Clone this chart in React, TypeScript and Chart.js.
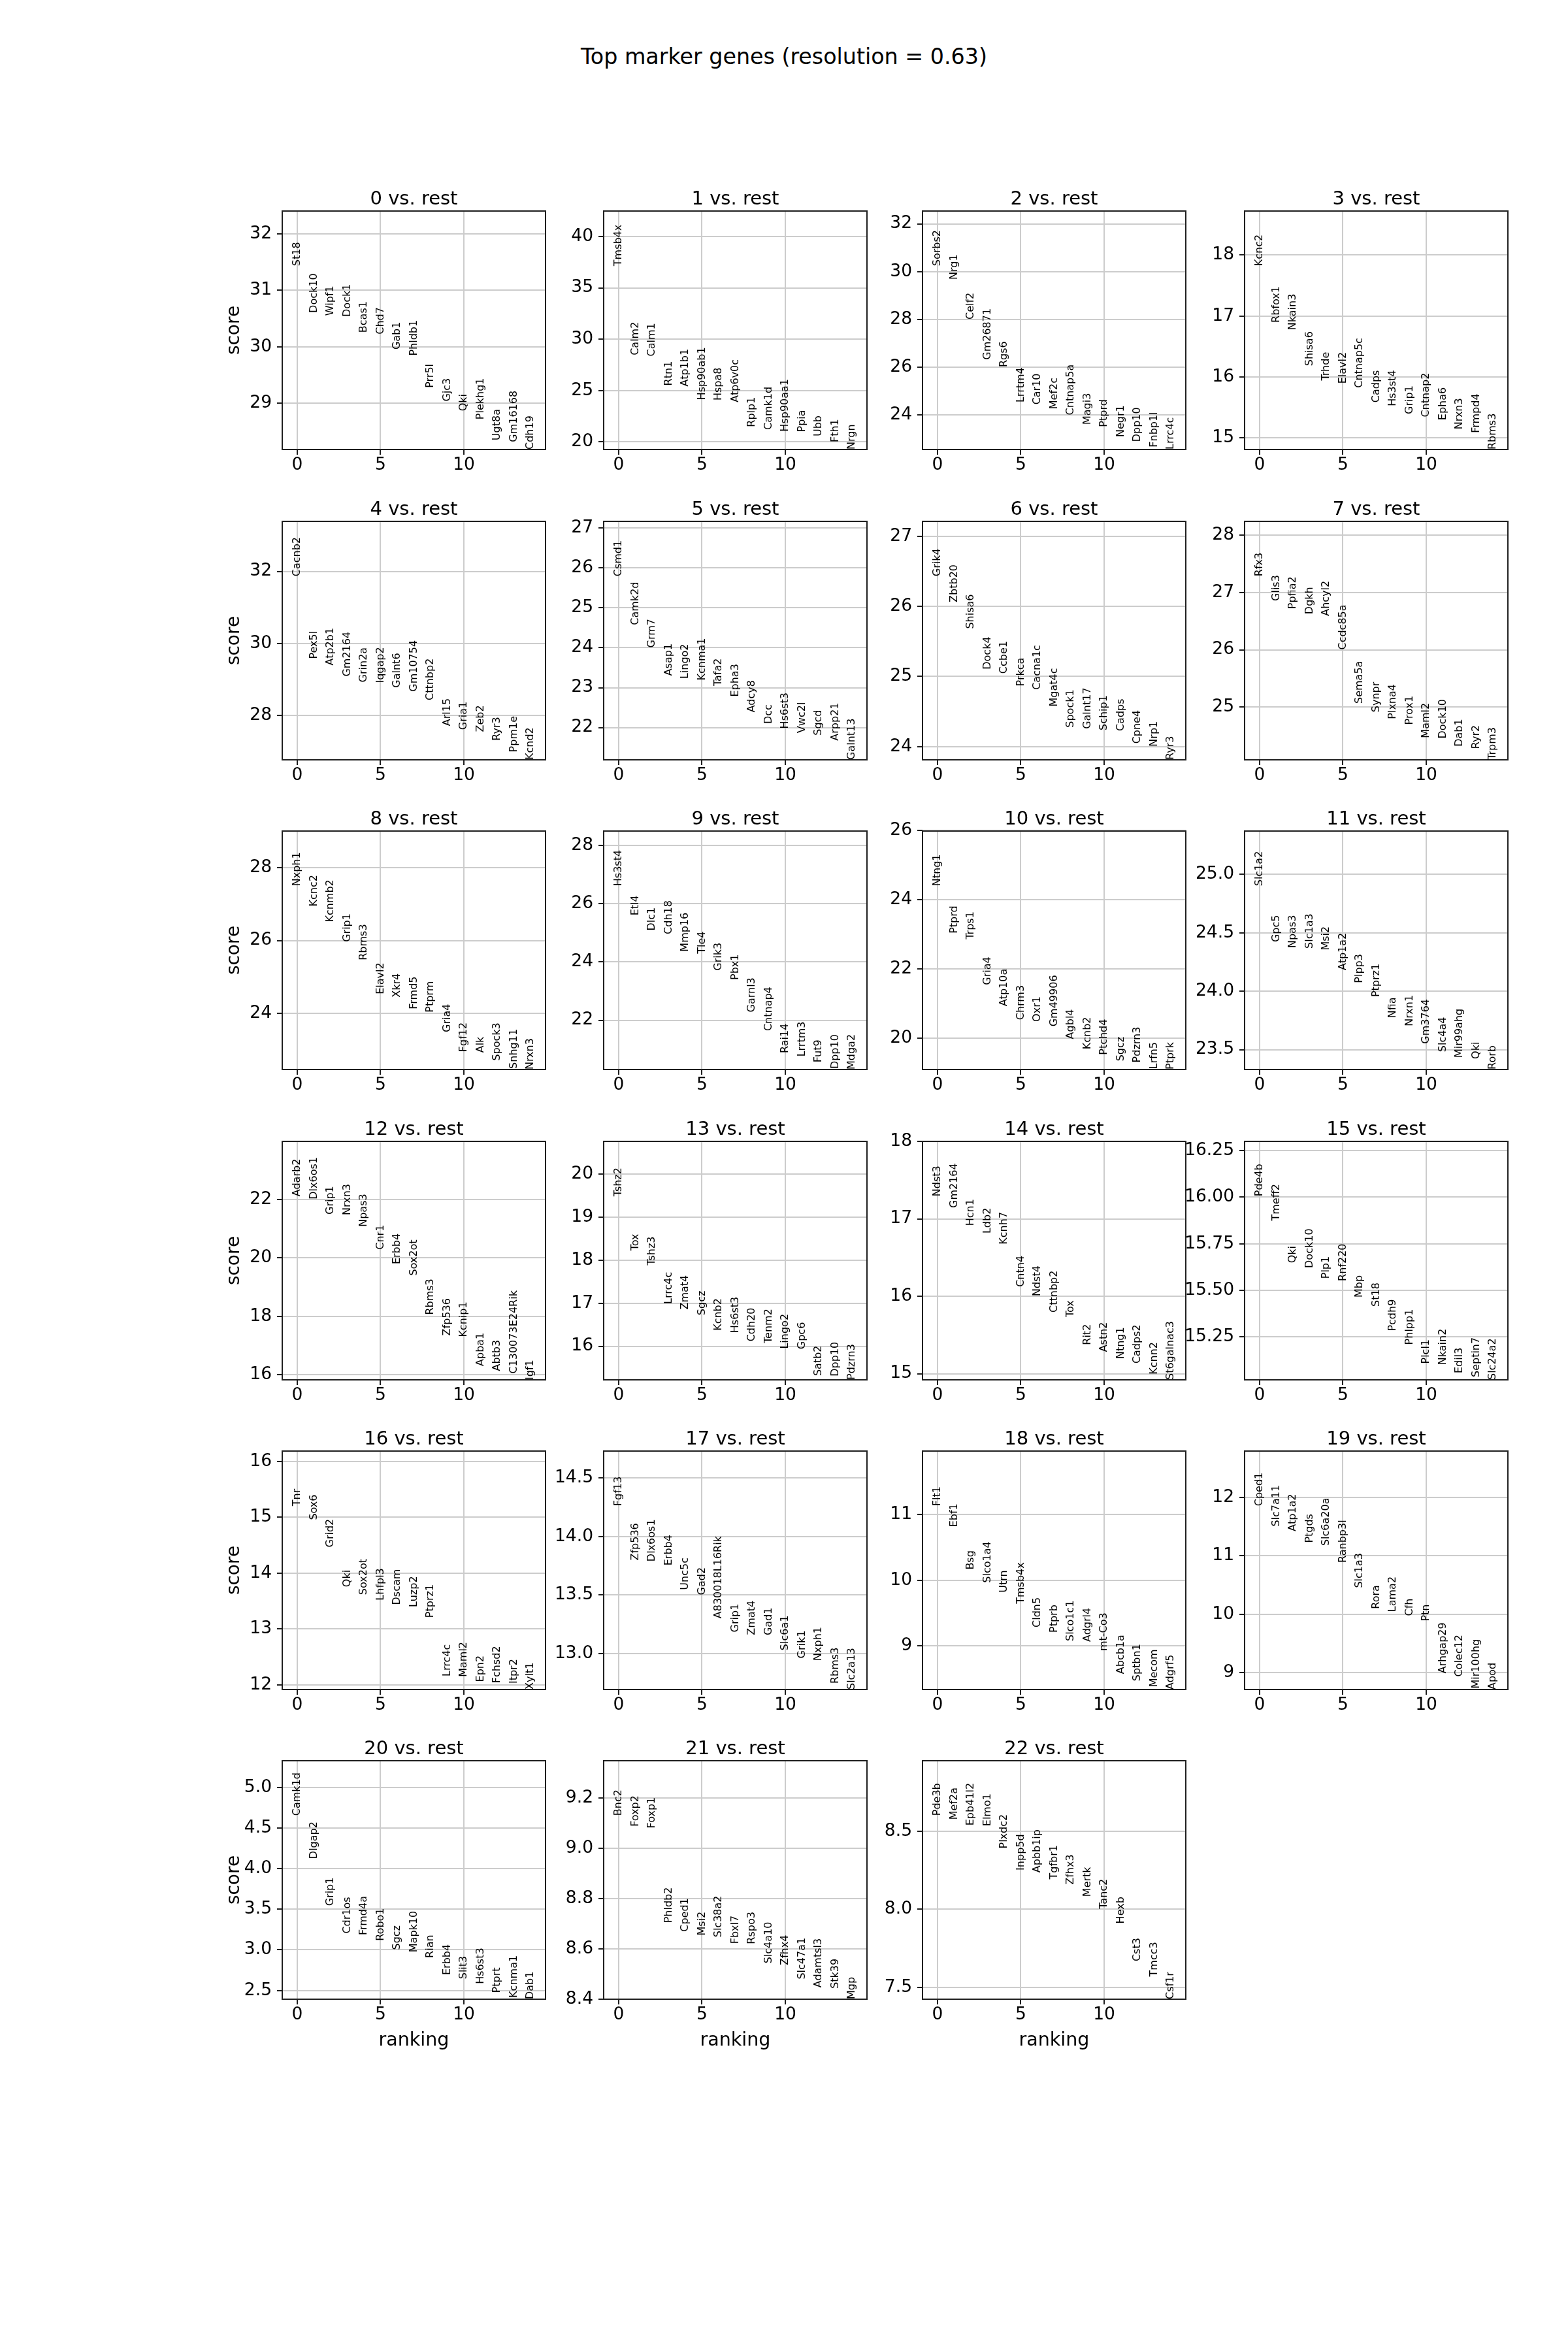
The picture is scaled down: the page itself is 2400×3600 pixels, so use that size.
import { useEffect, useRef } from 'react';
import { Chart, registerables } from 'chart.js';

Chart.register(...registerables);

const FONT = '"DejaVu Sans", sans-serif';

// ---------------- data ----------------
const mainTitle = 'Top marker genes (resolution = 0.63)';
const groupNames = ['0', '1', '2', '3', '4', '5', '6', '7', '8', '9', '10', '11', '12', '13', '14', '15', '16', '17', '18', '19', '20', '21', '22'];
const xTickValues = [0, 5, 10];
const xTickLabels = ['0', '5', '10'];

const geneNames: string[][] = [
  ['St18', 'Dock10', 'Wipf1', 'Dock1', 'Bcas1', 'Chd7', 'Gab1', 'Phldb1', 'Prr5l', 'Gjc3', 'Qki', 'Plekhg1', 'Ugt8a', 'Gm16168', 'Cdh19'],
  ['Tmsb4x', 'Calm2', 'Calm1', 'Rtn1', 'Atp1b1', 'Hsp90ab1', 'Hspa8', 'Atp6v0c', 'Rplp1', 'Camk1d', 'Hsp90aa1', 'Ppia', 'Ubb', 'Fth1', 'Nrgn'],
  ['Sorbs2', 'Nrg1', 'Celf2', 'Gm26871', 'Rgs6', 'Lrrtm4', 'Car10', 'Mef2c', 'Cntnap5a', 'Magi3', 'Ptprd', 'Negr1', 'Dpp10', 'Fnbp1l', 'Lrrc4c'],
  ['Kcnc2', 'Rbfox1', 'Nkain3', 'Shisa6', 'Trhde', 'Elavl2', 'Cntnap5c', 'Cadps', 'Hs3st4', 'Grip1', 'Cntnap2', 'Epha6', 'Nrxn3', 'Frmpd4', 'Rbms3'],
  ['Cacnb2', 'Pex5l', 'Atp2b1', 'Gm2164', 'Grin2a', 'Iqgap2', 'Galnt6', 'Gm10754', 'Cttnbp2', 'Arl15', 'Gria1', 'Zeb2', 'Ryr3', 'Ppm1e', 'Kcnd2'],
  ['Csmd1', 'Camk2d', 'Grm7', 'Asap1', 'Lingo2', 'Kcnma1', 'Tafa2', 'Epha3', 'Adcy8', 'Dcc', 'Hs6st3', 'Vwc2l', 'Sgcd', 'Arpp21', 'Galnt13'],
  ['Grik4', 'Zbtb20', 'Shisa6', 'Dock4', 'Ccbe1', 'Prkca', 'Cacna1c', 'Mgat4c', 'Spock1', 'Galnt17', 'Schip1', 'Cadps', 'Cpne4', 'Nrp1', 'Ryr3'],
  ['Rfx3', 'Glis3', 'Ppfia2', 'Dgkh', 'Ahcyl2', 'Ccdc85a', 'Sema5a', 'Synpr', 'Plxna4', 'Prox1', 'Maml2', 'Dock10', 'Dab1', 'Ryr2', 'Trpm3'],
  ['Nxph1', 'Kcnc2', 'Kcnmb2', 'Grip1', 'Rbms3', 'Elavl2', 'Xkr4', 'Frmd5', 'Ptprm', 'Gria4', 'Fgf12', 'Alk', 'Spock3', 'Snhg11', 'Nrxn3'],
  ['Hs3st4', 'Etl4', 'Dlc1', 'Cdh18', 'Mmp16', 'Tle4', 'Grik3', 'Pbx1', 'Garnl3', 'Cntnap4', 'Rai14', 'Lrrtm3', 'Fut9', 'Dpp10', 'Mdga2'],
  ['Ntng1', 'Ptprd', 'Trps1', 'Gria4', 'Atp10a', 'Chrm3', 'Oxr1', 'Gm49906', 'Agbl4', 'Kcnb2', 'Ptchd4', 'Sgcz', 'Pdzrn3', 'Lrfn5', 'Ptprk'],
  ['Slc1a2', 'Gpc5', 'Npas3', 'Slc1a3', 'Msi2', 'Atp1a2', 'Plpp3', 'Ptprz1', 'Nfia', 'Nrxn1', 'Gm3764', 'Slc4a4', 'Mir99ahg', 'Qki', 'Rorb'],
  ['Adarb2', 'Dlx6os1', 'Grip1', 'Nrxn3', 'Npas3', 'Cnr1', 'Erbb4', 'Sox2ot', 'Rbms3', 'Zfp536', 'Kcnip1', 'Apba1', 'Abtb3', 'C130073E24Rik', 'Igf1'],
  ['Tshz2', 'Tox', 'Tshz3', 'Lrrc4c', 'Zmat4', 'Sgcz', 'Kcnb2', 'Hs6st3', 'Cdh20', 'Tenm2', 'Lingo2', 'Gpc6', 'Satb2', 'Dpp10', 'Pdzrn3'],
  ['Ndst3', 'Gm2164', 'Hcn1', 'Ldb2', 'Kcnh7', 'Cntn4', 'Ndst4', 'Cttnbp2', 'Tox', 'Rit2', 'Astn2', 'Ntng1', 'Cadps2', 'Kcnn2', 'St6galnac3'],
  ['Pde4b', 'Tmeff2', 'Qki', 'Dock10', 'Plp1', 'Rnf220', 'Mbp', 'St18', 'Pcdh9', 'Phlpp1', 'Plcl1', 'Nkain2', 'Edil3', 'Septin7', 'Slc24a2'],
  ['Tnr', 'Sox6', 'Grid2', 'Qki', 'Sox2ot', 'Lhfpl3', 'Dscam', 'Luzp2', 'Ptprz1', 'Lrrc4c', 'Maml2', 'Epn2', 'Fchsd2', 'Itpr2', 'Xylt1'],
  ['Fgf13', 'Zfp536', 'Dlx6os1', 'Erbb4', 'Unc5c', 'Gad2', 'A830018L16Rik', 'Grip1', 'Zmat4', 'Gad1', 'Slc6a1', 'Grik1', 'Nxph1', 'Rbms3', 'Slc2a13'],
  ['Flt1', 'Ebf1', 'Bsg', 'Slco1a4', 'Utrn', 'Tmsb4x', 'Cldn5', 'Ptprb', 'Slco1c1', 'Adgrl4', 'mt-Co3', 'Abcb1a', 'Sptbn1', 'Mecom', 'Adgrf5'],
  ['Cped1', 'Slc7a11', 'Atp1a2', 'Ptgds', 'Slc6a20a', 'Ranbp3l', 'Slc1a3', 'Rora', 'Lama2', 'Cfh', 'Ptn', 'Arhgap29', 'Colec12', 'Mir100hg', 'Apod'],
  ['Camk1d', 'Dlgap2', 'Grip1', 'Cdr1os', 'Frmd4a', 'Robo1', 'Sgcz', 'Mapk10', 'Rian', 'Erbb4', 'Slit3', 'Hs6st3', 'Ptprt', 'Kcnma1', 'Dab1'],
  ['Bnc2', 'Foxp2', 'Foxp1', 'Phldb2', 'Cped1', 'Msi2', 'Slc38a2', 'Fbxl7', 'Rspo3', 'Slc4a10', 'Zfhx4', 'Slc47a1', 'Adamtsl3', 'Stk39', 'Mgp'],
  ['Pde3b', 'Mef2a', 'Epb41l2', 'Elmo1', 'Plxdc2', 'Inpp5d', 'Apbb1ip', 'Tgfbr1', 'Zfhx3', 'Mertk', 'Tanc2', 'Hexb', 'Cst3', 'Tmcc3', 'Csf1r'],
];

const geneScores: number[][] = [
  [31.43, 30.60, 30.55, 30.53, 30.25, 30.22, 29.95, 29.84, 29.27, 29.03, 28.86, 28.71, 28.34, 28.31, 28.18],
  [37.12, 28.43, 28.33, 25.47, 25.40, 24.07, 24.03, 23.86, 21.44, 21.17, 21.00, 20.95, 20.53, 19.96, 19.26],
  [30.23, 29.66, 27.99, 26.30, 25.99, 24.51, 24.42, 24.23, 23.98, 23.58, 23.48, 23.06, 22.86, 22.63, 22.54],
  [17.82, 16.89, 16.77, 16.18, 15.94, 15.89, 15.82, 15.58, 15.52, 15.39, 15.34, 15.29, 15.14, 15.08, 14.81],
  [31.86, 29.57, 29.39, 29.08, 28.92, 28.90, 28.77, 28.66, 28.42, 27.71, 27.60, 27.54, 27.30, 26.98, 26.77],
  [25.79, 24.57, 24.00, 23.30, 23.22, 23.18, 23.04, 22.77, 22.38, 22.09, 21.97, 21.86, 21.80, 21.67, 21.19],
  [26.43, 26.06, 25.68, 25.10, 25.04, 24.86, 24.81, 24.57, 24.27, 24.25, 24.23, 24.22, 24.04, 24.00, 23.81],
  [27.28, 26.85, 26.71, 26.62, 26.59, 26.00, 25.06, 24.91, 24.79, 24.69, 24.46, 24.45, 24.31, 24.27, 24.08],
  [27.49, 26.93, 26.50, 25.96, 25.46, 24.53, 24.44, 24.12, 24.03, 23.49, 22.95, 22.93, 22.71, 22.49, 22.47],
  [26.60, 25.59, 25.07, 24.95, 24.35, 24.28, 23.70, 23.38, 22.27, 21.63, 20.87, 20.75, 20.55, 20.33, 20.31],
  [24.40, 23.03, 22.86, 21.54, 20.93, 20.53, 20.48, 20.34, 19.98, 19.68, 19.52, 19.34, 19.30, 19.11, 19.10],
  [24.90, 24.42, 24.37, 24.365, 24.35, 24.18, 24.07, 23.95, 23.77, 23.70, 23.55, 23.48, 23.43, 23.42, 23.33],
  [22.10, 22.00, 21.48, 21.46, 21.06, 20.28, 19.78, 19.39, 18.05, 17.34, 17.29, 16.30, 16.13, 16.04, 15.83],
  [19.48, 18.22, 17.88, 16.98, 16.85, 16.72, 16.36, 16.31, 16.11, 16.07, 15.94, 15.93, 15.31, 15.30, 15.22],
  [17.29, 17.14, 16.91, 16.81, 16.67, 16.12, 16.00, 15.79, 15.73, 15.37, 15.28, 15.19, 15.13, 14.99, 14.92],
  [16.004, 15.873, 15.646, 15.619, 15.562, 15.549, 15.461, 15.412, 15.280, 15.207, 15.105, 15.099, 15.054, 15.033, 15.019],
  [15.20, 14.95, 14.46, 13.75, 13.61, 13.51, 13.43, 13.39, 13.20, 12.15, 12.14, 12.05, 12.03, 12.02, 11.915],
  [14.259, 13.794, 13.785, 13.751, 13.542, 13.499, 13.299, 13.181, 13.157, 13.155, 13.026, 12.957, 12.938, 12.742, 12.692],
  [11.13, 10.81, 10.16, 9.96, 9.81, 9.64, 9.28, 9.20, 9.07, 9.06, 8.92, 8.57, 8.46, 8.37, 8.333],
  [11.85, 11.50, 11.42, 11.22, 11.17, 10.88, 10.45, 10.09, 10.04, 9.97, 9.88, 8.99, 8.93, 8.73, 8.713],
  [4.65, 4.12, 3.54, 3.20, 3.18, 3.11, 3.00, 2.97, 2.90, 2.69, 2.64, 2.58, 2.47, 2.41, 2.393],
  [9.129, 9.086, 9.079, 8.703, 8.668, 8.653, 8.646, 8.620, 8.619, 8.542, 8.535, 8.479, 8.446, 8.442, 8.400],
  [8.601, 8.576, 8.538, 8.534, 8.390, 8.250, 8.236, 8.193, 8.158, 8.081, 8.003, 7.908, 7.666, 7.568, 7.423],
];

const yTickLabels: string[][] = [
  ['29', '30', '31', '32'],
  ['20', '25', '30', '35', '40'],
  ['24', '26', '28', '30', '32'],
  ['15', '16', '17', '18'],
  ['28', '30', '32'],
  ['22', '23', '24', '25', '26', '27'],
  ['24', '25', '26', '27'],
  ['25', '26', '27', '28'],
  ['24', '26', '28'],
  ['22', '24', '26', '28'],
  ['20', '22', '24', '26'],
  ['23.5', '24.0', '24.5', '25.0'],
  ['16', '18', '20', '22'],
  ['16', '17', '18', '19', '20'],
  ['15', '16', '17', '18'],
  ['15.25', '15.50', '15.75', '16.00', '16.25'],
  ['12', '13', '14', '15', '16'],
  ['13.0', '13.5', '14.0', '14.5'],
  ['9', '10', '11'],
  ['9', '10', '11', '12'],
  ['2.5', '3.0', '3.5', '4.0', '4.5', '5.0'],
  ['8.4', '8.6', '8.8', '9.0', '9.2'],
  ['7.5', '8.0', '8.5'],
];

// ---------------- layout ----------------
const PLOT_W = 403;
const PLOT_H = 365;
const COL_LEFT = [432, 924, 1412, 1905];
const ROW_TOP = [323, 798, 1272, 1747, 2221, 2695];
const YW = 150;
const TH = 60;
const RP = 12;
const XH = 100;
const GRID = '#cccccc';
const DARK = '#1f1f1f';

function makeConfig(p: number): any {
  const col = p % 4;
  const row = Math.floor(p / 4);
  const scores = geneScores[p];
  const names = geneNames[p];
  const lo = Math.min(...scores);
  const hi = Math.max(...scores);
  const top = hi + 0.3 * (hi - lo);
  const yVals = yTickLabels[p].map(Number);

  const decor = {
    id: 'panelDecor',
    afterDatasetsDraw(chart: any) {
      const { ctx, chartArea: a, scales } = chart;
      ctx.save();
      ctx.strokeStyle = DARK;
      ctx.lineWidth = 2;
      ctx.strokeRect(a.left, a.top, a.right - a.left, a.bottom - a.top);
      ctx.fillStyle = '#000';
      ctx.font = `16px ${FONT}`;
      ctx.textAlign = 'left';
      ctx.textBaseline = 'middle';
      chart.data.datasets[0].data.forEach((pt: any, i: number) => {
        const px = scales.x.getPixelForValue(pt.x);
        const py = scales.y.getPixelForValue(pt.y);
        ctx.save();
        ctx.translate(px, py);
        ctx.rotate(-Math.PI / 2);
        ctx.fillText(names[i], 0, 0);
        ctx.restore();
      });
      ctx.restore();
    },
  };

  return {
    type: 'scatter',
    data: {
      datasets: [
        {
          data: scores.map((s, i) => ({ x: i, y: s })),
          pointRadius: 0,
          pointHoverRadius: 0,
          showLine: false,
        },
      ],
    },
    options: {
      responsive: false,
      maintainAspectRatio: false,
      animation: false,
      events: [],
      layout: { padding: { left: 0, top: 0, bottom: 0, right: RP } },
      plugins: {
        legend: { display: false },
        tooltip: { enabled: false },
        title: {
          display: true,
          text: `${groupNames[p]} vs. rest`,
          color: '#000',
          fullSize: false,
          font: { family: FONT, size: 29, weight: 'normal', lineHeight: 1.2 },
          padding: { top: 24.6, bottom: 0.6 },
        },
      },
      scales: {
        x: {
          type: 'linear',
          min: -0.9,
          max: 14.9,
          afterBuildTicks: (s: any) => {
            s.ticks = xTickValues.map((v) => ({ value: v }));
          },
          afterFit: (s: any) => {
            s.height = XH;
          },
          ticks: {
            autoSkip: false,
            maxRotation: 0,
            minRotation: 0,
            padding: 0,
            color: '#000',
            font: { family: FONT, size: 26.5, lineHeight: 1.2 },
            callback: (_v: any, i: number) => xTickLabels[i],
          },
          grid: { color: GRID, lineWidth: 2, drawTicks: true, tickLength: 8, tickColor: DARK, tickWidth: 2 },
          border: { display: false },
          title: {
            display: row === 5,
            text: 'ranking',
            color: '#000',
            font: { family: FONT, size: 28.5, lineHeight: 1.2 },
            padding: { top: 0, bottom: 18.9 },
          },
        },
        y: {
          type: 'linear',
          min: lo,
          max: top,
          afterBuildTicks: (s: any) => {
            s.ticks = yVals.map((v) => ({ value: v }));
          },
          afterFit: (s: any) => {
            s.width = YW;
          },
          ticks: {
            autoSkip: false,
            padding: 8,
            color: '#000',
            font: { family: FONT, size: 26.5, lineHeight: 1.2 },
            callback: (_v: any, i: number) => yTickLabels[p][i],
          },
          grid: { color: GRID, lineWidth: 2, drawTicks: true, tickLength: 8, tickColor: DARK, tickWidth: 2 },
          border: { display: false },
          title: {
            display: col === 0,
            text: 'score',
            color: '#000',
            font: { family: FONT, size: 28, lineHeight: 1.2 },
            padding: { top: 60.2, bottom: 0 },
          },
        },
      },
    },
    plugins: [decor],
  };
}

function Panel({ p }: { p: number }) {
  const ref = useRef<HTMLCanvasElement>(null);
  useEffect(() => {
    if (!ref.current) return;
    const chart = new Chart(ref.current, makeConfig(p));
    return () => chart.destroy();
  }, [p]);
  const col = p % 4;
  const row = Math.floor(p / 4);
  const w = YW + PLOT_W + RP;
  const h = TH + PLOT_H + XH;
  return (
    <canvas
      ref={ref}
      width={w}
      height={h}
      style={{ position: 'absolute', left: COL_LEFT[col] - YW, top: ROW_TOP[row] - TH, width: w, height: h }}
    />
  );
}

export default function App() {
  return (
    <div style={{ position: 'absolute', left: 0, top: 0, width: 2400, height: 3600, background: '#fff', overflow: 'hidden' }}>
      <div
        style={{
          position: 'absolute',
          left: 0,
          top: 70,
          width: 2400,
          textAlign: 'center',
          fontFamily: FONT,
          fontSize: 33.3,
          lineHeight: 1,
          color: '#000',
          whiteSpace: 'nowrap',
        }}
      >
        {mainTitle}
      </div>
      {groupNames.map((_, p) => (
        <Panel key={p} p={p} />
      ))}
    </div>
  );
}
